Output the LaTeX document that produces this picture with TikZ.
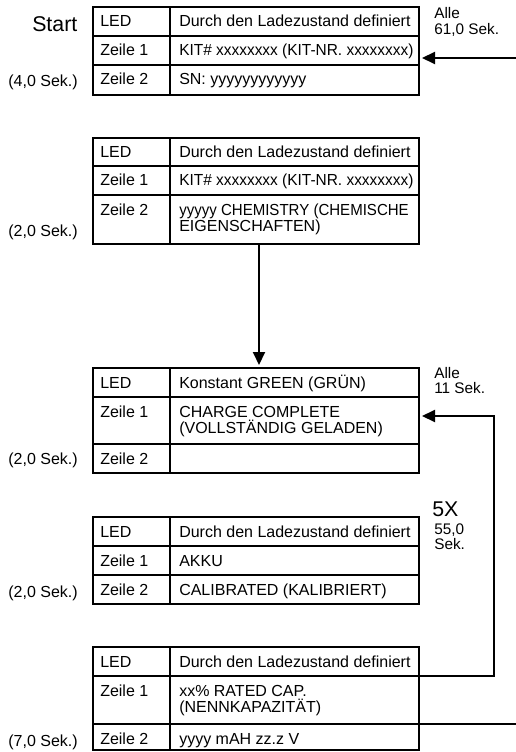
\documentclass[tikz,border=0pt]{standalone}
\usepackage{fontspec}
\usepackage{graphicx}
\setmainfont{Liberation Sans}
\usetikzlibrary{arrows.meta}
\tikzset{
 cellbox/.style={draw, line width=1.5pt, rectangle, inner sep=0pt, outer sep=0pt, anchor=north west},
 celltext/.style={anchor=base west, inner sep=0pt, font=\fontsize{12pt}{12pt}\selectfont},
 sidelabel/.style={anchor=base east, inner sep=0pt, font=\fontsize{12pt}{12pt}\selectfont},
 notelabel/.style={anchor=base west, inner sep=0pt, font=\fontsize{11.5pt}{11.5pt}\selectfont},
 biglabel/.style={anchor=base west, inner sep=0pt, font=\fontsize{16pt}{16pt}\selectfont},
 conn/.style={line width=1.5pt},
 arrowconn/.style={conn, -{Triangle[length=9.75pt,width=9pt]}, shorten >=2.25pt},
}
\newcommand\twolines[2]{\vtop{\hbox{#1}\hbox{#2}}}
\newcommand\myrow[5]{%
 \node[cellbox, minimum width=57.75pt, minimum height=#3*0.75pt] (#1a) at (93,#2) {};
 \node[cellbox, minimum width=186.75pt, minimum height=#3*0.75pt] (#1b) at (170,#2) {};
 \node[celltext] (#1at) at ([shift={(7,20)}]#1a.north west) {#4};
 \node[celltext] (#1bt) at ([shift={(9,20)}]#1b.north west) {#5};
}
\newcommand\kitline{\scalebox{0.965}[1]{KIT\# xxxxxxxx (KIT-NR. xxxxxxxx)}}
\begin{document}
\begin{tikzpicture}[x=0.75pt,y=-0.75pt]
\useasboundingbox (0,0) rectangle (516,752);
\fill[white] (0,0) rectangle (516,752);
% Table 1
\myrow{t1r0}{7}{29}{LED}{Durch den Ladezustand definiert}
\myrow{t1r1}{36}{29}{Zeile 1}{\kitline}
\myrow{t1r2}{65}{30}{Zeile 2}{SN: yyyyyyyyyyyy}
% Table 2
\myrow{t2r0}{138}{28}{LED}{Durch den Ladezustand definiert}
\myrow{t2r1}{166}{29}{Zeile 1}{\kitline}
\myrow{t2r2}{195}{49}{Zeile 2}{\twolines{\scalebox{0.94}[1]{yyyyy CHEMISTRY (CHEMISCHE}}{EIGENSCHAFTEN)}}
% Table 3
\myrow{t3r0}{368}{29}{LED}{Konstant GREEN (GRÜN)}
\myrow{t3r1}{397}{47}{Zeile 1}{\twolines{CHARGE COMPLETE}{(VOLLSTÄNDIG GELADEN)}}
\myrow{t3r2}{444}{29}{Zeile 2}{}
% Table 4
\myrow{t4r0}{517}{29}{LED}{Durch den Ladezustand definiert}
\myrow{t4r1}{546}{29}{Zeile 1}{AKKU}
\myrow{t4r2}{575}{29}{Zeile 2}{CALIBRATED (KALIBRIERT)}
% Table 5
\myrow{t5r0}{647}{29}{LED}{Durch den Ladezustand definiert}
\myrow{t5r1}{676}{48}{Zeile 1}{\twolines{xx\% RATED CAP.}{(NENNKAPAZITÄT)}}
\myrow{t5r2}{724}{26}{Zeile 2}{yyyy mAH zz.z V}
% side labels
\node[biglabel] (start) at (32,32) {Start};
\node[sidelabel] (d1lab) at (78,87) {(4,0 Sek.)};
\node[sidelabel] (d2lab) at (78,237) {(2,0 Sek.)};
\node[sidelabel] (d3lab) at (78,464) {(2,0 Sek.)};
\node[sidelabel] (d4lab) at (78,597) {(2,0 Sek.)};
\node[sidelabel] (d5lab) at (78,746) {(7,0 Sek.)};
\node[notelabel] (alle1) at (434,19) {\twolines{Alle}{61,0 Sek.}};
\node[notelabel] (alle2) at (434,378) {\twolines{Alle}{11 Sek.}};
\node[biglabel] (fivex) at (432,516) {5X};
\node[notelabel] (sek55) at (434,534) {\twolines{55,0}{Sek.}};
% connectors
\coordinate (e1) at (516,58);
\draw[arrowconn] (e1) -- (e1 -| t1r1b.east);
\coordinate (dx) at (259,0);
\draw[arrowconn] (dx |- t2r2b.south) -- (dx |- t3r0b.north);
\coordinate (lp) at (494,416);
\draw[arrowconn] (t5r0b.south east) -| (lp) -- (lp -| t3r1b.east);
\coordinate (e2) at (516,724);
\draw[conn] (t5r1b.south east) -- (e2);
\end{tikzpicture}
\end{document}
